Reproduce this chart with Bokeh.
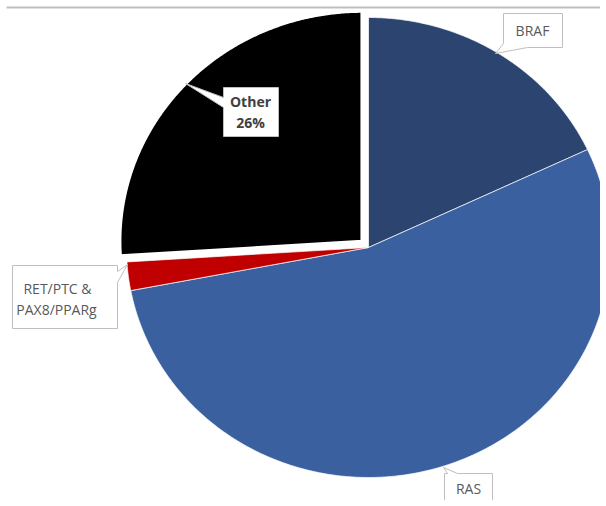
import numpy as np
from bokeh.plotting import figure
from bokeh.models import Range1d
from bokeh.core.properties import value
from bokeh.embed import file_html
from bokeh.resources import INLINE

# ---- data ----
categories = ["BRAF", "RAS", "RET/PTC & PAX8/PPARg", "Other"]
shares = [18, 54, 2, 26]
colors = ["#2C4470", "#3A60A0", "#C00000", "#000000"]
explode = [0, 0, 0, 9]

W, H = 600, 500
p = figure(width=W, height=H, x_range=Range1d(0, W), y_range=Range1d(H, 0),
           output_backend="svg", toolbar_location=None, min_border=0)
p.axis.visible = False
p.grid.visible = False
p.outline_line_color = None
p.background_fill_color = "white"
p.border_fill_color = "white"

# top rule
p.segment(x0=[6], y0=[7], x1=[W], y1=[7], line_color="#BFBFBF", line_width=2)

cx, cy, rx, ry = 368, 247, 242, 230
total = float(sum(shares))
start = 0.0
xs, ys = [], []
for s, e in zip(shares, explode):
    a0 = start / total * 2 * np.pi
    a1 = (start + s) / total * 2 * np.pi
    mid = (a0 + a1) / 2
    ox, oy = e * np.sin(mid), -e * np.cos(mid)
    t = np.linspace(a0, a1, 240)
    xs.append(list(np.concatenate([[cx], cx + rx * np.sin(t)]) + ox))
    ys.append(list(np.concatenate([[cy], cy - ry * np.cos(t)]) + oy))
    start += s

p.patches(xs[:3], ys[:3], fill_color=colors[:3], line_color="white", line_width=1, line_alpha=0.7)
p.patches([xs[3]], [ys[3]], fill_color=[colors[3]], line_color="white", line_width=3)

# ---- callout boxes ----
box_x = [
    [503, 562, 562, 527, 495, 503],                      # BRAF
    [444, 447, 443, 457, 492, 492, 444],                 # RAS
    [12, 117, 117, 127, 117, 117, 12],                   # RET
    [223, 278, 278, 223, 223, 185, 223],                 # Other
]
box_y = [
    [13, 13, 47, 47, 53, 43],
    [473, 473, 467, 473, 473, 501, 501],
    [265, 265, 271, 264, 282, 328, 328],
    [87, 87, 136, 136, 107, 83, 97],
]
p.patches(box_x, box_y, fill_color="white", line_color="#BFBFBF", line_width=1)

font = value("Open Sans")
p.text(x=[532, 468], y=[30, 488], text=[categories[0], categories[1]],
       text_font=font, text_font_size="14px", text_color="#595959",
       text_align="center", text_baseline="middle")
p.text(x=[57, 56], y=[288, 309], text=["RET/PTC &", "PAX8/PPARg"],
       text_font=font, text_font_size="14px", text_color="#595959",
       text_align="center", text_baseline="middle")
p.text(x=[250, 250], y=[101, 122], text=[categories[3], f"{shares[3]}%"],
       text_font=font, text_font_size="14px", text_font_style="bold", text_color="#404040",
       text_align="center", text_baseline="middle")

open("out.html", "w").write(file_html(p, INLINE))
